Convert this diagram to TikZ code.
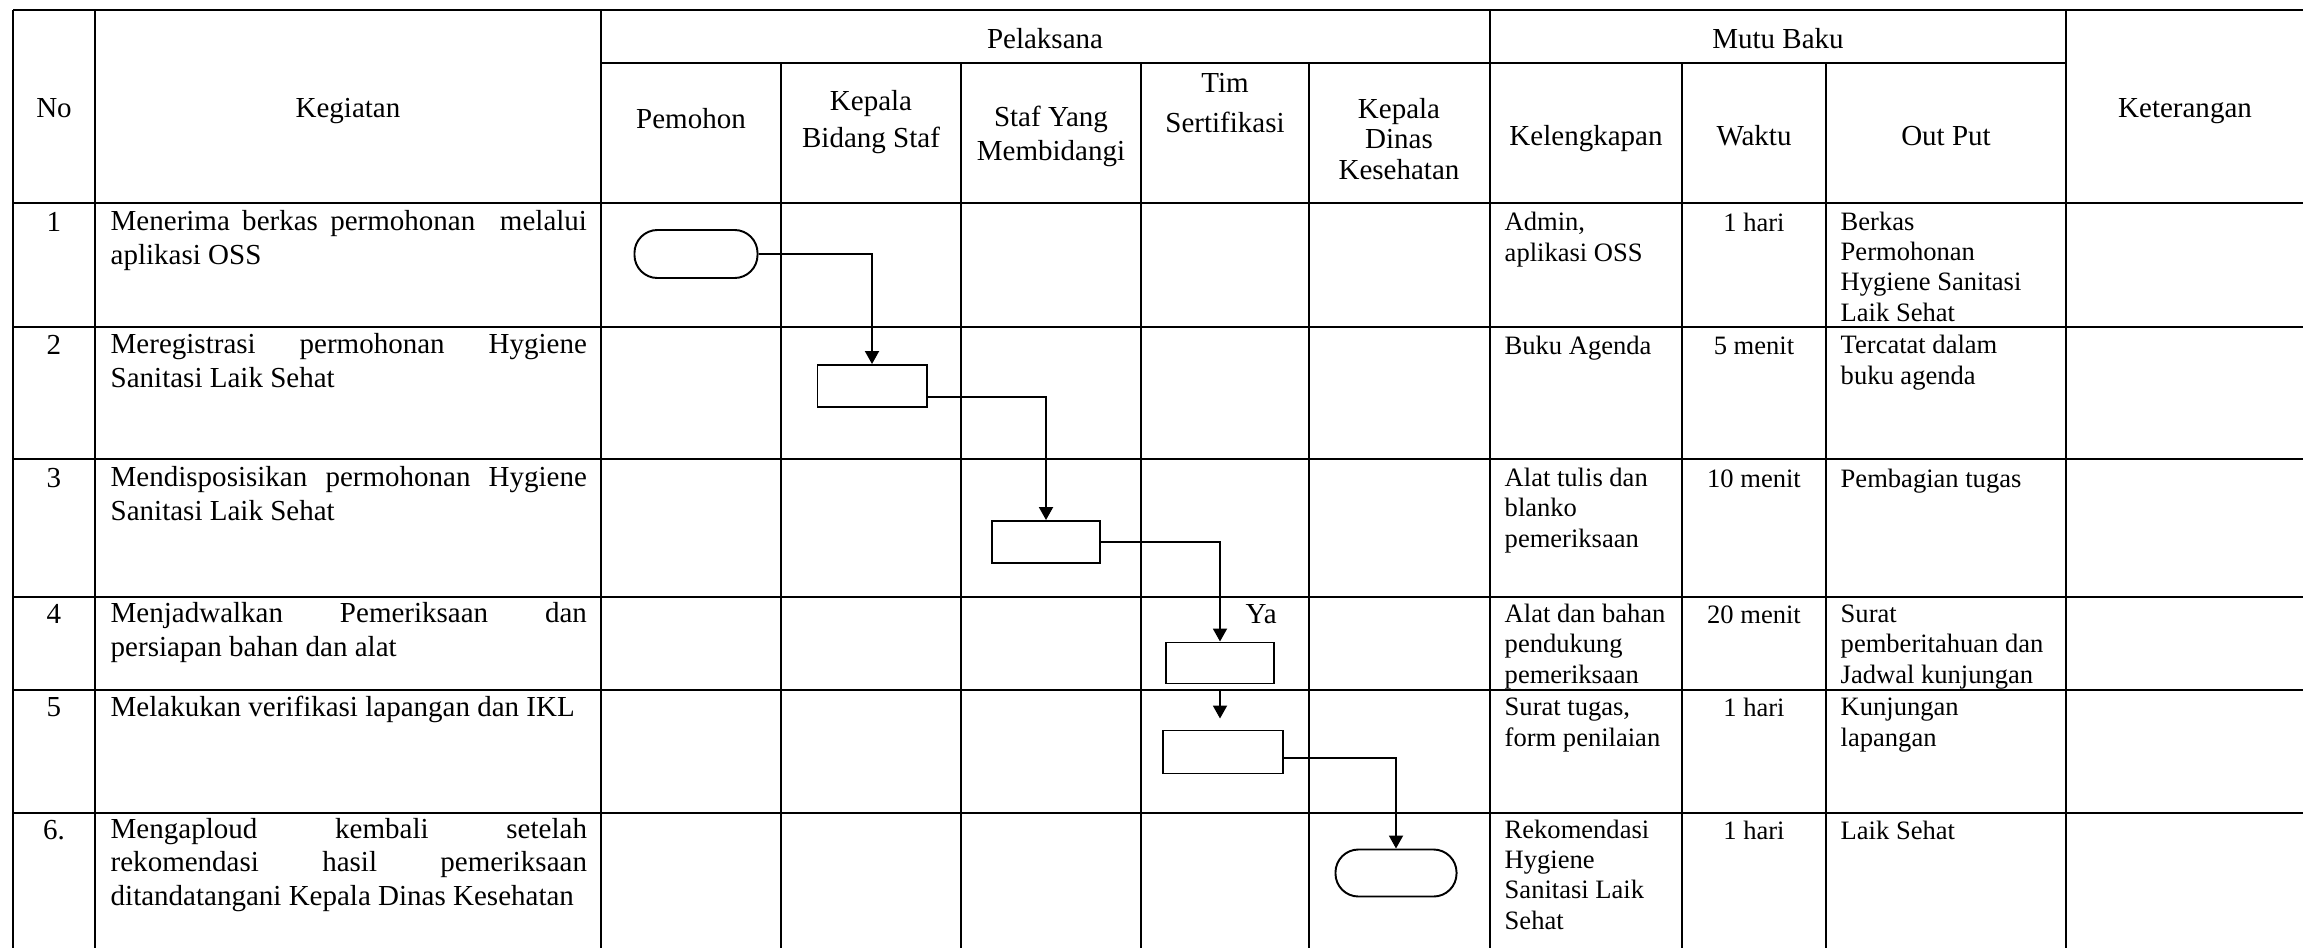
\documentclass[tikz,border=0pt]{standalone}
\usepackage{fontspec}
\setmainfont{Liberation Serif}
\usetikzlibrary{arrows.meta}
\tikzset{
    garis/.style={line width=0.7pt},
    kepala/.style={font=\fontsize{8.25}{9.4}\selectfont, align=center, inner sep=0pt, anchor=base},
    isi/.style={font=\fontsize{8.25}{9.4}\selectfont, align=left, inner sep=0pt, anchor=base west},
    mutu/.style={font=\fontsize{7.55}{8.55}\selectfont, align=left, inner sep=0pt, anchor=base west},
    waktu/.style={mutu, anchor=base},
    proses/.style={draw, line width=0.55pt, rectangle, inner sep=0pt},
    terminal/.style={draw, line width=0.55pt, rectangle, rounded corners=2.3mm, inner sep=0pt},
    alur/.style={line width=0.55pt, -{Triangle[length=1.3mm, width=1.4mm]}}
}
\newcommand{\rata}[1]{\makebox[4.76cm][s]{#1}}
\begin{document}
\begin{tikzpicture}[x=0.01cm, y=-0.01cm]
                    \useasboundingbox (0, 0) rectangle (2303, 948);
                    % garis tabel
                    \draw[garis](13, 10) to (2303, 10);
                    \draw[garis](601, 63) to (2066, 63);
                    \draw[garis](13, 203) to (2303, 203);
                    \draw[garis](13, 327) to (2303, 327);
                    \draw[garis](13, 459) to (2303, 459);
                    \draw[garis](13, 597) to (2303, 597);
                    \draw[garis](13, 690) to (2303, 690);
                    \draw[garis](13, 813) to (2303, 813);
                    \draw[garis](13, 10) to (13, 948);
                    \draw[garis](95, 10) to (95, 948);
                    \draw[garis](601, 10) to (601, 948);
                    \draw[garis](1490, 10) to (1490, 948);
                    \draw[garis](2066, 10) to (2066, 948);
                    \draw[garis](781, 63) to (781, 948);
                    \draw[garis](961, 63) to (961, 948);
                    \draw[garis](1141, 63) to (1141, 948);
                    \draw[garis](1309, 63) to (1309, 948);
                    \draw[garis](1682, 63) to (1682, 948);
                    \draw[garis](1826, 63) to (1826, 948);
                    % kepala tabel (y = garis dasar baris terakhir)
                        \node[kepala] (no) at (54, 117){No};
                        \node[kepala] (kegiatan) at (348, 117){Kegiatan};
                        \node[kepala] (pelaksana) at (1045, 48){Pelaksana};
                        \node[kepala] (mutubaku) at (1778, 48){Mutu Baku};
                        \node[kepala] (keterangan) at (2185, 117){Keterangan};
                        \node[kepala] (pemohon) at (691, 128){Pemohon};
                        \node[kepala] (kabid) at (871, 147){Kepala\\[1.1pt]Bidang Staf};
                        \node[kepala] (staf) at (1051, 160){Staf Yang\\Membidangi};
                        \node[kepala] (tim) at (1225, 132){Tim\\[1.7pt]Sertifikasi};
                        \node[kepala] (kadinkes) at (1399, 179){Kepala\\[-0.85pt]Dinas\\[-0.85pt]Kesehatan};
                        \node[kepala] (kelengkapan) at (1586, 145){Kelengkapan};
                        \node[kepala] (waktu) at (1754, 145){Waktu};
                        \node[kepala] (output) at (1946, 145){Out Put};
                    % nomor dan kegiatan
                        \node[kepala] (no1) at (54, 231){1};
                        \node[kepala] (no2) at (54, 354){2};
                        \node[kepala] (no3) at (54, 487){3};
                        \node[kepala] (no4) at (54, 623){4};
                        \node[kepala] (no5) at (54, 716){5};
                        \node[kepala] (no6) at (54, 839){6.};
                        \node[isi] (keg1) at (110, 264){\rata{Menerima berkas permohonan \ melalui}\\ aplikasi OSS};
                        \node[isi] (keg2) at (110, 387){\rata{Meregistrasi permohonan Hygiene}\\ Sanitasi Laik Sehat};
                        \node[isi] (keg3) at (110, 520){\rata{Mendisposisikan permohonan Hygiene}\\ Sanitasi Laik Sehat};
                        \node[isi] (keg4) at (110, 656){\rata{Menjadwalkan Pemeriksaan dan}\\ persiapan bahan dan alat};
                        \node[isi] (keg5) at (110, 716){Melakukan verifikasi lapangan dan IKL};
                        \node[isi] (keg6) at (110, 905){\rata{Mengaploud kembali setelah}\\ \rata{rekomendasi hasil pemeriksaan}\\ ditandatangani Kepala Dinas Kesehatan};
                    % mutu baku
                        \node[mutu] (kel1) at (1504, 261){Admin,\\ aplikasi OSS};
                        \node[mutu] (kel2) at (1504, 354){Buku Agenda};
                        \node[mutu] (kel3) at (1504, 547){Alat tulis dan\\ blanko\\ pemeriksaan};
                        \node[mutu] (kel4) at (1504, 683){Alat dan bahan\\ pendukung\\ pemeriksaan};
                        \node[mutu] (kel5) at (1504, 746){Surat tugas,\\ form penilaian};
                        \node[mutu] (kel6) at (1504, 929){Rekomendasi\\ Hygiene\\ Sanitasi Laik\\ Sehat};
                        \node[waktu] (wkt1) at (1754, 231){1 hari};
                        \node[waktu] (wkt2) at (1754, 354){5 menit};
                        \node[waktu] (wkt3) at (1754, 487){10 menit};
                        \node[waktu] (wkt4) at (1754, 623){20 menit};
                        \node[waktu] (wkt5) at (1754, 716){1 hari};
                        \node[waktu] (wkt6) at (1754, 839){1 hari};
                        \node[mutu] (out1) at (1840, 321){Berkas\\ Permohonan\\ Hygiene Sanitasi\\ Laik Sehat};
                        \node[mutu] (out2) at (1840, 384){Tercatat dalam\\ buku agenda};
                        \node[mutu] (out3) at (1840, 487){Pembagian tugas};
                        \node[mutu] (out4) at (1840, 683){Surat\\ pemberitahuan dan\\ Jadwal kunjungan};
                        \node[mutu] (out5) at (1840, 746){Kunjungan\\ lapangan};
                        \node[mutu] (out6) at (1840, 839){Laik Sehat};
                    % bagan alir
                        \node[terminal, minimum width=12.3mm, minimum height=4.8mm] (mulai) at (696, 254){};
                        \node[proses, minimum width=10.9mm, minimum height=4.2mm] (registrasi) at (872, 386){};
                        \node[proses, minimum width=10.8mm, minimum height=4.2mm] (disposisi) at (1046, 542){};
                        \node[proses, minimum width=10.8mm, minimum height=4.1mm] (jadwal) at (1220, 663){};
                        \node[proses, minimum width=12mm, minimum height=4.3mm] (verifikasi) at (1223, 752){};
                        \node[terminal, minimum width=12.1mm, minimum height=4.7mm] (selesai) at (1396, 873){};
                        \node[isi] (ya) at (1245, 623){Ya};
                    \draw[alur] (mulai.east) -| (registrasi.north);
                    \draw[alur] ([yshift=-1.1mm]registrasi.east) -| (disposisi.north);
                    \draw[alur] (disposisi.east) -| (jadwal.north);
                    \draw[alur, shorten <=0.6mm, shorten >=1.1mm] (jadwal.south) to (jadwal.south |- verifikasi.north);
                    \draw[alur] ([yshift=-0.6mm]verifikasi.east) -| (selesai.north);
\end{tikzpicture}
\end{document}
